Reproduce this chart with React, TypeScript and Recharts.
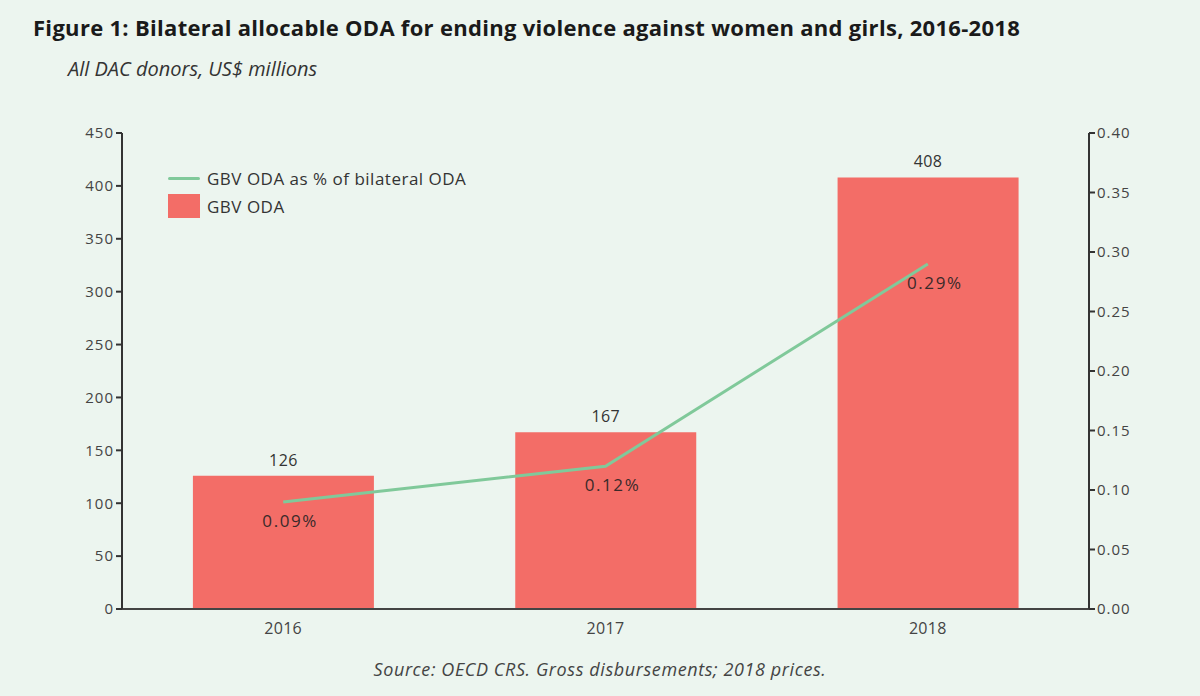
import React from 'react';
import {
  ComposedChart,
  Bar,
  Line,
  XAxis,
  YAxis,
  LabelList,
} from 'recharts';

const years = ['2016', '2017', '2018'];
const gbvOda = [126, 167, 408];
const gbvShare = [0.09, 0.12, 0.29];
const leftTicks = [0, 50, 100, 150, 200, 250, 300, 350, 400, 450];
const rightTicks = [0, 0.05, 0.1, 0.15, 0.2, 0.25, 0.3, 0.35, 0.4];

const data = years.map((year, i) => ({
  year,
  oda: gbvOda[i],
  share: gbvShare[i],
}));

const BG = '#ecf5ef';
const BAR = '#f36d67';
const LINE = '#80c99a';
const FONT = '"Open Sans", "Noto Sans", sans-serif';
const yTickStyle = { fontSize: 15, fill: '#444', fontFamily: FONT, letterSpacing: 1 };
const xTickStyle = { fontSize: 16, fill: '#444', fontFamily: FONT, letterSpacing: 0.3 };

function ShareLabel(props: any) {
  const { x, y, value } = props;
  return (
    <text
      x={x + 7}
      y={y + 25}
      textAnchor="middle"
      fontSize={17}
      fill="#3a2a2a"
      fontFamily={FONT}
      letterSpacing={1.6}
    >
      {value.toFixed(2)}%
    </text>
  );
}

export default function App() {
  return (
    <div
      style={{
        position: 'absolute',
        left: 0,
        top: 0,
        width: 1200,
        height: 696,
        background: BG,
        fontFamily: FONT,
        overflow: 'hidden',
      }}
    >
      <div
        style={{
          position: 'absolute',
          left: 33,
          top: 12,
          fontSize: 22,
          fontWeight: 700,
          letterSpacing: 0.3,
          color: '#1a1a1a',
          whiteSpace: 'nowrap',
        }}
      >
        Figure 1: Bilateral allocable ODA for ending violence against women and girls, 2016-2018
      </div>
      <div style={{ position: 'absolute', left: 68, top: 55, fontSize: 20, fontStyle: 'italic', color: '#333' }}>
        All DAC donors, US$ millions
      </div>
      <ComposedChart
        width={1200}
        height={696}
        data={data}
        margin={{ top: 133, right: 51, left: 62, bottom: 57 }}
        barCategoryGap="22%"
        style={{ position: 'absolute', left: 0, top: 0 }}
      >
        <XAxis
          dataKey="year"
          height={30}
          tickLine={false}
          axisLine={{ stroke: '#444', strokeWidth: 2 }}
          tick={xTickStyle}
          tickMargin={8}
        />
        <YAxis
          yAxisId="left"
          width={60}
          domain={[0, 450]}
          ticks={leftTicks}
          axisLine={{ stroke: '#333', strokeWidth: 2 }}
          tickLine={{ stroke: '#333', strokeWidth: 2 }}
          tickSize={6}
          tick={yTickStyle}
        />
        <YAxis
          yAxisId="right"
          orientation="right"
          width={60}
          domain={[0, 0.4]}
          ticks={rightTicks}
          tickFormatter={(v: number) => v.toFixed(2)}
          axisLine={{ stroke: '#333', strokeWidth: 2 }}
          tickLine={{ stroke: '#333', strokeWidth: 2 }}
          tickSize={6}
          tick={yTickStyle}
        />
        <Bar yAxisId="left" dataKey="oda" fill={BAR} isAnimationActive={false}>
          <LabelList
            dataKey="oda"
            position="top"
            offset={10}
            style={{ fontSize: 16, fill: '#333', fontFamily: FONT, letterSpacing: 0.4 }}
          />
        </Bar>
        <Line
          yAxisId="right"
          dataKey="share"
          stroke={LINE}
          strokeWidth={3}
          dot={false}
          activeDot={false}
          isAnimationActive={false}
        >
          <LabelList dataKey="share" content={<ShareLabel />} />
        </Line>
      </ComposedChart>
      <div style={{ position: 'absolute', left: 168, top: 165, fontSize: 17, letterSpacing: 0.5, color: '#333' }}>
        <div style={{ display: 'flex', alignItems: 'center', height: 26 }}>
          <span style={{ width: 32, height: 3, background: LINE, borderRadius: 2, marginRight: 7 }} />
          GBV ODA as % of bilateral ODA
        </div>
        <div style={{ display: 'flex', alignItems: 'center', height: 30 }}>
          <span style={{ width: 32, height: 24, background: BAR, marginRight: 7 }} />
          GBV ODA
        </div>
      </div>
      <div
        style={{
          position: 'absolute',
          left: 0,
          width: 1200,
          top: 657,
          textAlign: 'center',
          fontSize: 18,
          letterSpacing: 0.6,
          fontStyle: 'italic',
          color: '#444',
        }}
      >
        Source: OECD CRS. Gross disbursements; 2018 prices.
      </div>
    </div>
  );
}
